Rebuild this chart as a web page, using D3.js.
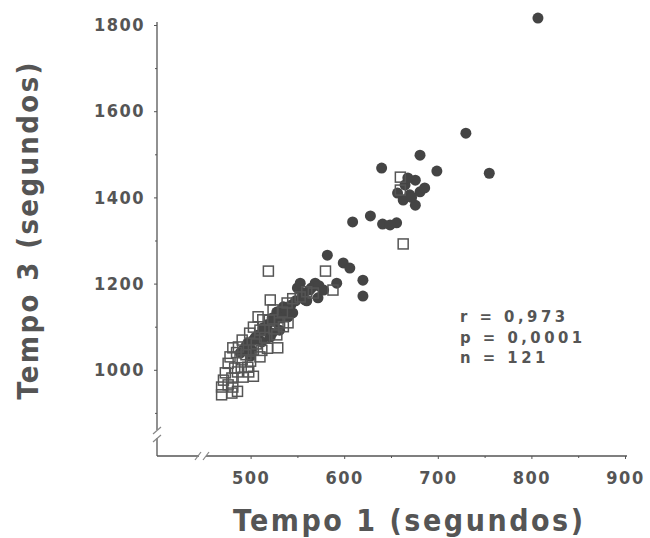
<!DOCTYPE html>
<html>
<head>
<meta charset="utf-8">
<script src="https://cdn.jsdelivr.net/npm/d3@7"></script>
<style>
  body { margin: 0; background: #fff; }
  text { font-family: "DejaVu Sans Condensed", "DejaVu Sans", sans-serif; font-stretch: condensed; font-weight: bold; fill: #555; }
</style>
</head>
<body>
<div id="chart"></div>
<script>
// Tempo 1 vs Tempo 3 (seconds)
// hollow squares
const squares = [
    [469, 942], [469, 960], [471, 976], [473, 993], [480, 946], [481, 960], [480, 981],
    [483, 1004], [481, 1051], [491, 1023], [497, 1006], [492, 983], [503, 1046], [510, 1092],
    [513, 1116], [529, 1051], [528, 1081], [531, 1109], [539, 1155], [553, 1169], [560, 1181],
    [567, 1178], [521, 1162], [519, 1229], [508, 1123], [503, 1099], [499, 1085], [491, 1069],
    [487, 1053], [524, 1139], [534, 1134], [540, 1109], [580, 1229], [588, 1185], [663, 1292],
    [660, 1447], [660, 1417], [476, 1015], [486, 995], [495, 1035], [500, 1020], [506, 1060],
    [515, 1075], [518, 1050], [525, 1095], [486, 950], [476, 965], [498, 995], [510, 1030],
    [520, 1115], [545, 1165], [535, 1100], [512, 1045], [490, 1005], [503, 985], [485, 1040],
    [478, 1030]
];

// filled dots
const dots = [
    [535, 1146], [528, 1134], [523, 1120], [513, 1097], [508, 1081], [503, 1069], [497, 1062],
    [492, 1046], [489, 1039], [501, 1046], [512, 1065], [521, 1076], [531, 1092], [540, 1123],
    [545, 1132], [550, 1190], [556, 1178], [563, 1185], [572, 1167], [558, 1162], [569, 1201],
    [553, 1201], [582, 1266], [599, 1248], [606, 1236], [592, 1201], [620, 1208], [620, 1171],
    [609, 1343], [628, 1357], [641, 1338], [656, 1341], [649, 1336], [640, 1468], [681, 1498],
    [699, 1461], [730, 1549], [755, 1456], [807, 1816], [665, 1429], [676, 1440], [681, 1413],
    [670, 1406], [663, 1394], [676, 1382], [686, 1422], [657, 1410], [495, 1055], [505, 1075],
    [515, 1090], [518, 1105], [526, 1112], [533, 1120], [538, 1140], [543, 1150], [548, 1160],
    [555, 1170], [560, 1160], [565, 1190], [573, 1195], [578, 1185], [668, 1445], [672, 1400],
    [500, 1032], [523, 1085]
];

const xTicks = [500, 600, 700, 800, 900];
const yTicks = [1000, 1200, 1400, 1600, 1800];
const statLines = ["r = 0,973", "p = 0,0001", "n = 121"];

const width = 650;
const height = 538;
const ink = "#555";

const svg = d3.select("#chart")
    .append("svg")
    .attr("width", width)
    .attr("height", height);

svg.append("rect").attr("width", width).attr("height", height).attr("fill", "#fff");

// Scales
const x = d3.scaleLinear().domain([400, 900]).range([157, 625]);
const y = d3.scaleLinear().domain([800, 1800]).range([456, 25]);

// X axis (labels + ticks), domain line drawn by hand because of the break
const xAxis = svg.append("g")
    .attr("transform", `translate(0,${y(800)})`)
    .call(d3.axisBottom(x).tickValues(xTicks).tickSize(3).tickPadding(12).tickFormat(d3.format("d")));
xAxis.select(".domain").remove();
xAxis.selectAll("line").attr("stroke", ink);
xAxis.selectAll("text")
    .attr("font-size", 18)
    .attr("letter-spacing", "1.5px")
    .attr("fill", ink);

// minor ticks on x
svg.append("g")
    .attr("transform", `translate(0,${y(800)})`)
    .call(d3.axisBottom(x).tickValues([550, 650, 750, 850]).tickSize(2).tickFormat(""))
    .call(g => g.select(".domain").remove())
    .selectAll("line").attr("stroke", ink);

// Y axis
const yAxis = svg.append("g")
    .attr("transform", `translate(${x(400)},0)`)
    .call(d3.axisLeft(y).tickValues(yTicks).tickSize(3).tickPadding(9).tickFormat(d3.format("d")));
yAxis.select(".domain").remove();
yAxis.selectAll("line").attr("stroke", ink);
yAxis.selectAll("text")
    .attr("font-size", 18)
    .attr("letter-spacing", "1.5px")
    .attr("fill", ink);

svg.append("g")
    .attr("transform", `translate(${x(400)},0)`)
    .call(d3.axisLeft(y).tickValues([900, 1100, 1300, 1500, 1700]).tickSize(2).tickFormat(""))
    .call(g => g.select(".domain").remove())
    .selectAll("line").attr("stroke", ink);

// Axis lines with break marks
const x0 = x(400), y0 = y(800);
const axisLines = [
    [x0, y(1800) - 3, x0, 430],
    [x0, 438, x0, y0],
    [x0, y0, 199, y0],
    [206, y0, x(900) + 2, y0]
];
svg.selectAll("line.axis-line")
    .data(axisLines)
    .enter()
    .append("line")
    .attr("class", "axis-line")
    .attr("x1", d => d[0]).attr("y1", d => d[1])
    .attr("x2", d => d[2]).attr("y2", d => d[3])
    .attr("stroke", ink)
    .attr("stroke-width", 1.3);

const breakMarks = [
    [x0 - 4, 434, x0 + 4, 427],
    [x0 - 4, 442, x0 + 4, 435],
    [195, y0 + 4, 201, y0 - 4],
    [203, y0 + 4, 209, y0 - 4]
];
svg.selectAll("line.break")
    .data(breakMarks)
    .enter()
    .append("line")
    .attr("class", "break")
    .attr("x1", d => d[0]).attr("y1", d => d[1])
    .attr("x2", d => d[2]).attr("y2", d => d[3])
    .attr("stroke", "#888")
    .attr("stroke-width", 1.2);

// Points
svg.selectAll("circle.dot")
    .data(dots)
    .enter()
    .append("circle")
    .attr("class", "dot")
    .attr("cx", d => x(d[0]))
    .attr("cy", d => y(d[1]))
    .attr("r", 5.5)
    .attr("fill", "#444");

const sq = 10;
svg.selectAll("rect.square")
    .data(squares)
    .enter()
    .append("rect")
    .attr("class", "square")
    .attr("x", d => x(d[0]) - sq / 2)
    .attr("y", d => y(d[1]) - sq / 2)
    .attr("width", sq)
    .attr("height", sq)
    .attr("fill", "none")
    .attr("stroke", "#555")
    .attr("stroke-width", 1.5);

// Statistics
svg.selectAll("text.stat")
    .data(statLines)
    .enter()
    .append("text")
    .attr("class", "stat")
    .attr("x", 460)
    .attr("y", (d, i) => 322 + i * 20.5)
    .attr("font-size", 16.5)
    .attr("letter-spacing", "3.5px")
    .text(d => d);

// Axis titles
svg.append("text")
    .attr("x", 408)
    .attr("y", 531)
    .attr("text-anchor", "middle")
    .attr("font-size", 30)
    .attr("textLength", 350)
    .attr("lengthAdjust", "spacing")
    .text("Tempo 1 (segundos)");

svg.append("text")
    .attr("transform", "translate(38,231) rotate(-90)")
    .attr("text-anchor", "middle")
    .attr("font-size", 29)
    .attr("textLength", 337)
    .attr("lengthAdjust", "spacing")
    .text("Tempo 3 (segundos)");
</script>
</body>
</html>
